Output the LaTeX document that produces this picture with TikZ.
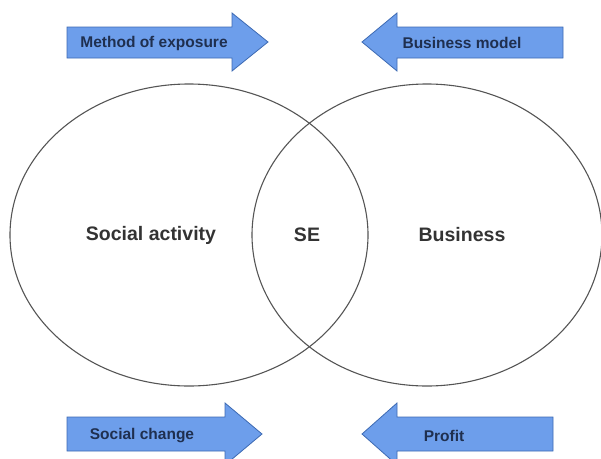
\documentclass[tikz,border=0pt]{standalone}
\usepackage{fontspec}
\setmainfont{Liberation Sans}
\definecolor{arrowfill}{HTML}{6D9EEB}
\definecolor{arrowline}{HTML}{3D6AB3}
\definecolor{arrowtext}{HTML}{1F2F4F}
\definecolor{circline}{HTML}{555555}
\definecolor{maintext}{HTML}{333333}
\begin{document}
\begin{tikzpicture}[x=1pt,y=-1pt,
  blockarrow/.style={fill=arrowfill,draw=arrowline,line width=0.8pt,line join=miter},
  arrowlabel/.style={font=\bfseries\fontsize{15.5}{18}\selectfont,text=arrowtext,inner sep=0pt},
  setshape/.style={draw=circline,line width=1.1pt},
  mainlabel/.style={font=\bfseries\fontsize{19.5}{23}\selectfont,text=maintext,inner sep=0pt}]
\useasboundingbox (0,0) rectangle (601,458);
\begin{scope}
\clip (0,0) rectangle (601,458);
% top arrows
\draw[blockarrow] (67,27) -- (232,27) -- (232,13) -- (268,42) -- (232,71) -- (232,58) -- (67,58) -- cycle;
\draw[blockarrow] (563,27) -- (397,27) -- (397,13) -- (362,42) -- (397,71) -- (397,58) -- (563,58) -- cycle;
% bottom arrows
\draw[blockarrow] (67,417) -- (225,417) -- (225,403) -- (262,434) -- (225,465) -- (225,451) -- (67,451) -- cycle;
\draw[blockarrow] (553,417) -- (397,417) -- (397,403) -- (362,434) -- (397,465) -- (397,451) -- (553,451) -- cycle;
% sets
\draw[setshape] (189,235) ellipse [x radius=179, y radius=151];
\draw[setshape] (427,235) ellipse [x radius=175, y radius=151];
\end{scope}
\node[arrowlabel] (moe) at (154,43) {Method of exposure};
\node[arrowlabel] (bm) at (462,43) {Business model};
\node[arrowlabel] (sc) at (142,436) {Social change};
\node[arrowlabel] (pr) at (444,436) {Profit};
\node[mainlabel] (sa) at (151,235) {Social activity};
\node[mainlabel] (se) at (307,235) {SE};
\node[mainlabel] (bu) at (462,235) {Business};
\end{tikzpicture}
\end{document}
